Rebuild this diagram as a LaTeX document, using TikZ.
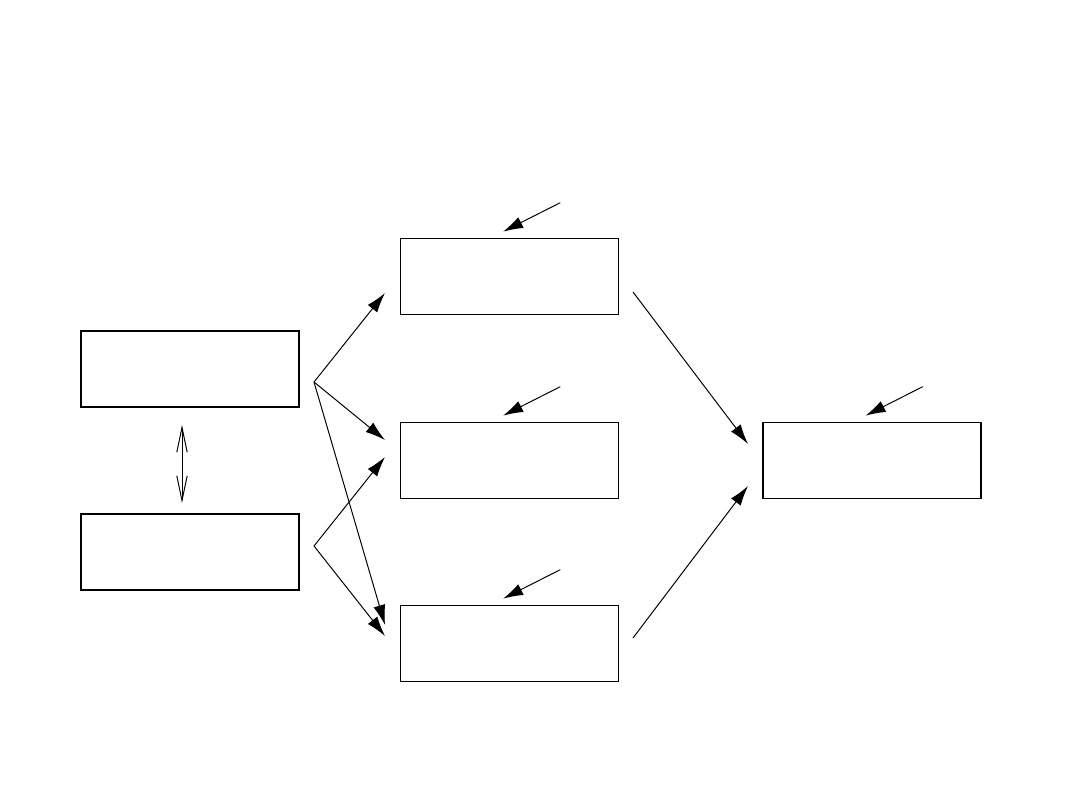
\documentclass[tikz,border=0pt]{standalone}
\usetikzlibrary{arrows.meta}
\tikzset{
  blk/.style={draw, line width=1.2pt, minimum width=5.45cm, minimum height=1.9cm, inner sep=0pt},
  arr/.style={line width=0.7pt, -{Latex[length=0.5cm, width=0.3cm]}},
  dbl/.style={line width=0.7pt, {Straight Barb[length=0.62cm, width=0.26cm]}-{Straight Barb[length=0.62cm, width=0.26cm]}}
}
\begin{document}
\begin{tikzpicture}[x=0.025cm, y=-0.025cm]
\useasboundingbox (0,0) rectangle (1080,810);
% boxes
\node[blk] (lefta) at (190,369) {};
\node[blk] (leftb) at (190,552) {};
\node[blk] (mida) at (509.5,276.5) {};
\node[blk] (midb) at (509.5,460.5) {};
\node[blk] (midc) at (509.5,643.5) {};
\node[blk] (right) at (872,460.5) {};
% fork points and free ends
\coordinate (forka) at (314,382);
\coordinate (forkb) at (314,546);
\coordinate (ina1) at (385,293);
\coordinate (inb1) at (385,440);
\coordinate (inb2) at (385,457);
\coordinate (inc1) at (385,625);
\coordinate (inc2) at (385,636);
\coordinate (outa) at (633,292);
\coordinate (outc) at (633,638);
\coordinate (inr1) at (748,444);
\coordinate (inr2) at (748,486);
\coordinate (dtop) at (182,425);
\coordinate (dbot) at (182,503);
% forks into the middle column
\draw[arr] (forka) -- (ina1);
\draw[arr] (forka) -- (inb1);
\draw[arr] (forka) -- (inc1);
\draw[arr] (forkb) -- (inb2);
\draw[arr] (forkb) -- (inc2);
% middle column into right box
\draw[arr] (outa) -- (inr1);
\draw[arr] (outc) -- (inr2);
\draw[dbl] (dtop) -- (dbot);
% small arrows onto box tops
\foreach \b in {mida, midb, midc, right}
{
  \coordinate (\b-tail) at ([xshift=1.27cm, yshift=0.875cm]\b.north);
  \coordinate (\b-tip) at ([xshift=-0.16cm, yshift=0.15cm]\b.north);
  \draw[arr] (\b-tail) -- (\b-tip);
}
\end{tikzpicture}
\end{document}
